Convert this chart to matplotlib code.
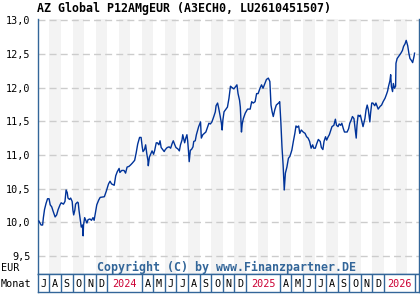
import numpy as np
import matplotlib.pyplot as plt
import matplotlib.dates as mdates

TITLE = 'AZ Global P12AMgEUR (A3ECH0, LU2610451507)'
COPYRIGHT = 'Copyright (C) by www.Finanzpartner.DE'

START = np.datetime64('2023-07-01')
AXIS_END = np.datetime64('2026-04-02')

# days since START
day_offsets = [
    3, 9, 13, 15, 18, 22, 26, 30, 33, 37, 41, 46, 50, 54, 59, 62, 68, 72, 75, 78,
    80, 84, 87, 91, 93, 95, 98, 100, 105, 107, 109, 112, 115, 118, 120, 121, 124, 127, 130, 133,
    138, 142, 146, 149, 153, 156, 161, 165, 176, 181, 187, 191, 195, 202, 206, 210, 215, 217, 222, 228,
    232, 236, 241, 245, 250, 256, 260, 264, 269, 273, 276, 278, 282, 285, 288, 291, 292, 295, 299, 302,
    306, 309, 313, 316, 320, 323, 326, 330, 334, 337, 342, 347, 351, 355, 358, 362, 365, 370, 374, 377,
    381, 383, 385, 388, 391, 394, 396, 398, 400, 403, 406, 410, 412, 416, 419, 423, 425, 430, 432, 436,
    440, 444, 449, 452, 456, 460, 465, 469, 471, 475, 478, 482, 485, 487, 489, 492, 497, 501, 505, 509,
    513, 518, 522, 526, 529, 533, 535, 538, 540, 543, 548, 554, 561, 565, 569, 574, 578, 582, 587, 591,
    595, 600, 604, 609, 613, 616, 619, 622, 626, 630, 636, 639, 642, 645, 648, 650, 651, 654, 658, 662,
    666, 671, 675, 679, 682, 685, 689, 692, 696, 701, 706, 710, 714, 718, 722, 726, 729, 733, 737, 741,
    746, 749, 753, 756, 760, 763, 767, 770, 774, 777, 782, 786, 789, 793, 796, 800, 803, 807, 810, 817,
    821, 824, 828, 831, 835, 838, 841, 843, 846, 850, 852, 856, 859, 864, 867, 870, 873, 877, 879, 882,
    885, 890, 893, 899, 904, 908, 912, 917, 921, 924, 926, 930, 932, 934, 937, 939, 942, 945, 946, 949,
    954, 959, 963, 966, 970, 973, 977, 980, 983, 987, 990, 994, 995,
]
prices = [
    10.02, 9.96, 9.96, 10.07, 10.19, 10.28, 10.35, 10.35, 10.26, 10.23, 10.16, 10.08, 10.11, 10.19, 10.26, 10.29, 10.27, 10.31, 10.48, 10.44,
    10.36, 10.34, 10.36, 10.31, 10.18, 10.11, 10.18, 10.27, 10.30, 10.29, 10.18, 10.06, 9.93, 9.96, 9.80, 9.96, 10.07, 10.03, 9.99, 10.04,
    10.05, 10.03, 10.07, 10.03, 10.16, 10.26, 10.33, 10.37, 10.38, 10.46, 10.57, 10.61, 10.57, 10.55, 10.69, 10.75, 10.80, 10.74, 10.77, 10.77,
    10.73, 10.82, 10.83, 10.85, 10.88, 10.92, 11.03, 11.16, 11.26, 11.26, 11.12, 11.05, 11.08, 11.15, 11.02, 10.92, 10.84, 10.97, 11.02, 11.06,
    11.01, 11.07, 11.18, 11.18, 11.15, 11.21, 11.11, 11.08, 11.05, 11.08, 11.11, 11.12, 11.10, 11.17, 11.21, 11.15, 11.11, 11.09, 11.06, 11.15,
    11.22, 11.30, 11.25, 11.18, 11.25, 11.30, 11.21, 11.07, 10.90, 11.07, 11.08, 11.12, 11.20, 11.21, 11.30, 11.38, 11.42, 11.49, 11.25, 11.30,
    11.32, 11.34, 11.42, 11.47, 11.46, 11.49, 11.57, 11.64, 11.73, 11.77, 11.69, 11.57, 11.47, 11.37, 11.52, 11.64, 11.68, 11.71, 11.84, 12.02,
    12.00, 11.98, 12.01, 12.04, 11.91, 11.81, 11.71, 11.34, 11.46, 11.54, 11.62, 11.68, 11.68, 11.79, 11.77, 11.79, 11.91, 11.91, 11.99, 12.04,
    11.99, 12.06, 12.12, 12.14, 12.09, 11.74, 11.64, 11.57, 11.67, 11.74, 11.77, 11.79, 11.49, 11.12, 10.85, 10.60, 10.48, 10.73, 10.82, 10.95,
    10.98, 11.07, 11.20, 11.32, 11.43, 11.41, 11.43, 11.32, 11.37, 11.34, 11.32, 11.27, 11.25, 11.20, 11.10, 11.15, 11.10, 11.10, 11.17, 11.23,
    11.20, 11.11, 11.08, 11.20, 11.27, 11.22, 11.27, 11.30, 11.37, 11.42, 11.44, 11.53, 11.44, 11.42, 11.46, 11.44, 11.47, 11.39, 11.34, 11.34,
    11.39, 11.47, 11.52, 11.57, 11.54, 11.39, 11.25, 11.44, 11.59, 11.57, 11.59, 11.49, 11.42, 11.54, 11.67, 11.74, 11.67, 11.49, 11.62, 11.77,
    11.77, 11.73, 11.77, 11.68, 11.72, 11.74, 11.79, 11.84, 11.90, 11.95, 12.01, 12.10, 12.19, 12.01, 11.94, 12.06, 11.99, 12.02, 12.36, 12.43,
    12.47, 12.51, 12.55, 12.61, 12.65, 12.70, 12.62, 12.51, 12.43, 12.40, 12.37, 12.47, 12.51,
]

y_ticks = [9.5, 10.0, 10.5, 11.0, 11.5, 12.0, 12.5, 13.0]
y_labels = ['9,5', '10,0', '10,5', '11,0', '11,5', '12,0', '12,5', '13,0']
MONTH_LETTERS = ['J', 'F', 'M', 'A', 'M', 'J', 'J', 'A', 'S', 'O', 'N', 'D']

LINE_COLOR = '#003399'
FRAME_COLOR = '#336699'
YEAR_COLOR = '#cc0033'
BAND_COLOR = '#f3f3f3'
MONO = 'DejaVu Sans Mono'

dates = START + np.array(day_offsets).astype('timedelta64[D]')
x = mdates.date2num(dates)
x0 = mdates.date2num(START)
x1 = mdates.date2num(AXIS_END)
last = dates[-1]

fig = plt.figure(figsize=(4.2, 3.0), dpi=100)
W, H = 420.0, 300.0
left, right = 37.7 / W, 418.7 / W
ax = fig.add_axes([left, 1 - 274.3 / H, right - left, (274.3 - 19) / H])
axm = fig.add_axes([left, 1 - 292 / H, right - left, (292 - 274.3) / H])

# alternating month bands
m = START.astype('datetime64[M]')
while m.astype('datetime64[D]') < last:
    mo = m.astype(int) % 12 + 1
    if mo % 2 == 0:
        a = mdates.date2num(m.astype('datetime64[D]'))
        b = mdates.date2num((m + 1).astype('datetime64[D]'))
        ax.axvspan(a, b, color=BAND_COLOR, lw=0, zorder=0)
    m = m + 1

for t in y_ticks:
    ax.axhline(t, color='#cccccc', lw=1.0, ls=(0, (5, 3)), zorder=1)

ax.plot(x, prices, color=LINE_COLOR, lw=1.0, zorder=3)

ax.set_xlim(x0, x1)
ax.set_ylim(9.229, 13.017)
ax.set_xticks([])
ax.set_yticks(y_ticks)
ax.set_yticklabels(y_labels, family=MONO, fontsize=7.3)
ax.tick_params(axis='y', length=0, pad=5)
ax.spines['top'].set_visible(False)
for s in ['left', 'right', 'bottom']:
    ax.spines[s].set_color(FRAME_COLOR)
    ax.spines[s].set_linewidth(1.0)

# month label row
axm.set_xlim(x0, x1)
axm.set_ylim(0, 1)
axm.set_xticks([])
axm.set_yticks([])
for s in axm.spines.values():
    s.set_color(FRAME_COLOR)
    s.set_linewidth(1.0)

m = START.astype('datetime64[M]')
while m.astype('datetime64[D]') < last:
    mo = m.astype(int) % 12 + 1
    if mo == 1:
        nxt = m + 3
        label, color = str(m)[:4], YEAR_COLOR
    else:
        nxt = m + 1
        label, color = MONTH_LETTERS[mo - 1], 'black'
    a = mdates.date2num(m.astype('datetime64[D]'))
    b = mdates.date2num(min(nxt.astype('datetime64[D]'), last))
    axm.axvline(b, color=FRAME_COLOR, lw=1.0)
    axm.text((a + b) / 2, 0.45, label, color=color, family=MONO, fontsize=7.3,
             ha='center', va='center')
    m = nxt

fig.text(36.7 / W, 1 - 8.3 / H, TITLE, family=MONO, weight='bold', fontsize=8.4,
         ha='left', va='center')
fig.text(226.8 / W, 1 - 267.7 / H, COPYRIGHT, family=MONO, weight='bold', fontsize=8.4,
         color=FRAME_COLOR, ha='center', va='center')
fig.text(1 / W, 1 - 268 / H, 'EUR', family=MONO, fontsize=7.3, ha='left', va='center')
fig.text(1 / W, 1 - 284 / H, 'Monat', family=MONO, fontsize=7.3, ha='left', va='center')

fig.savefig('out.png', dpi=100)
